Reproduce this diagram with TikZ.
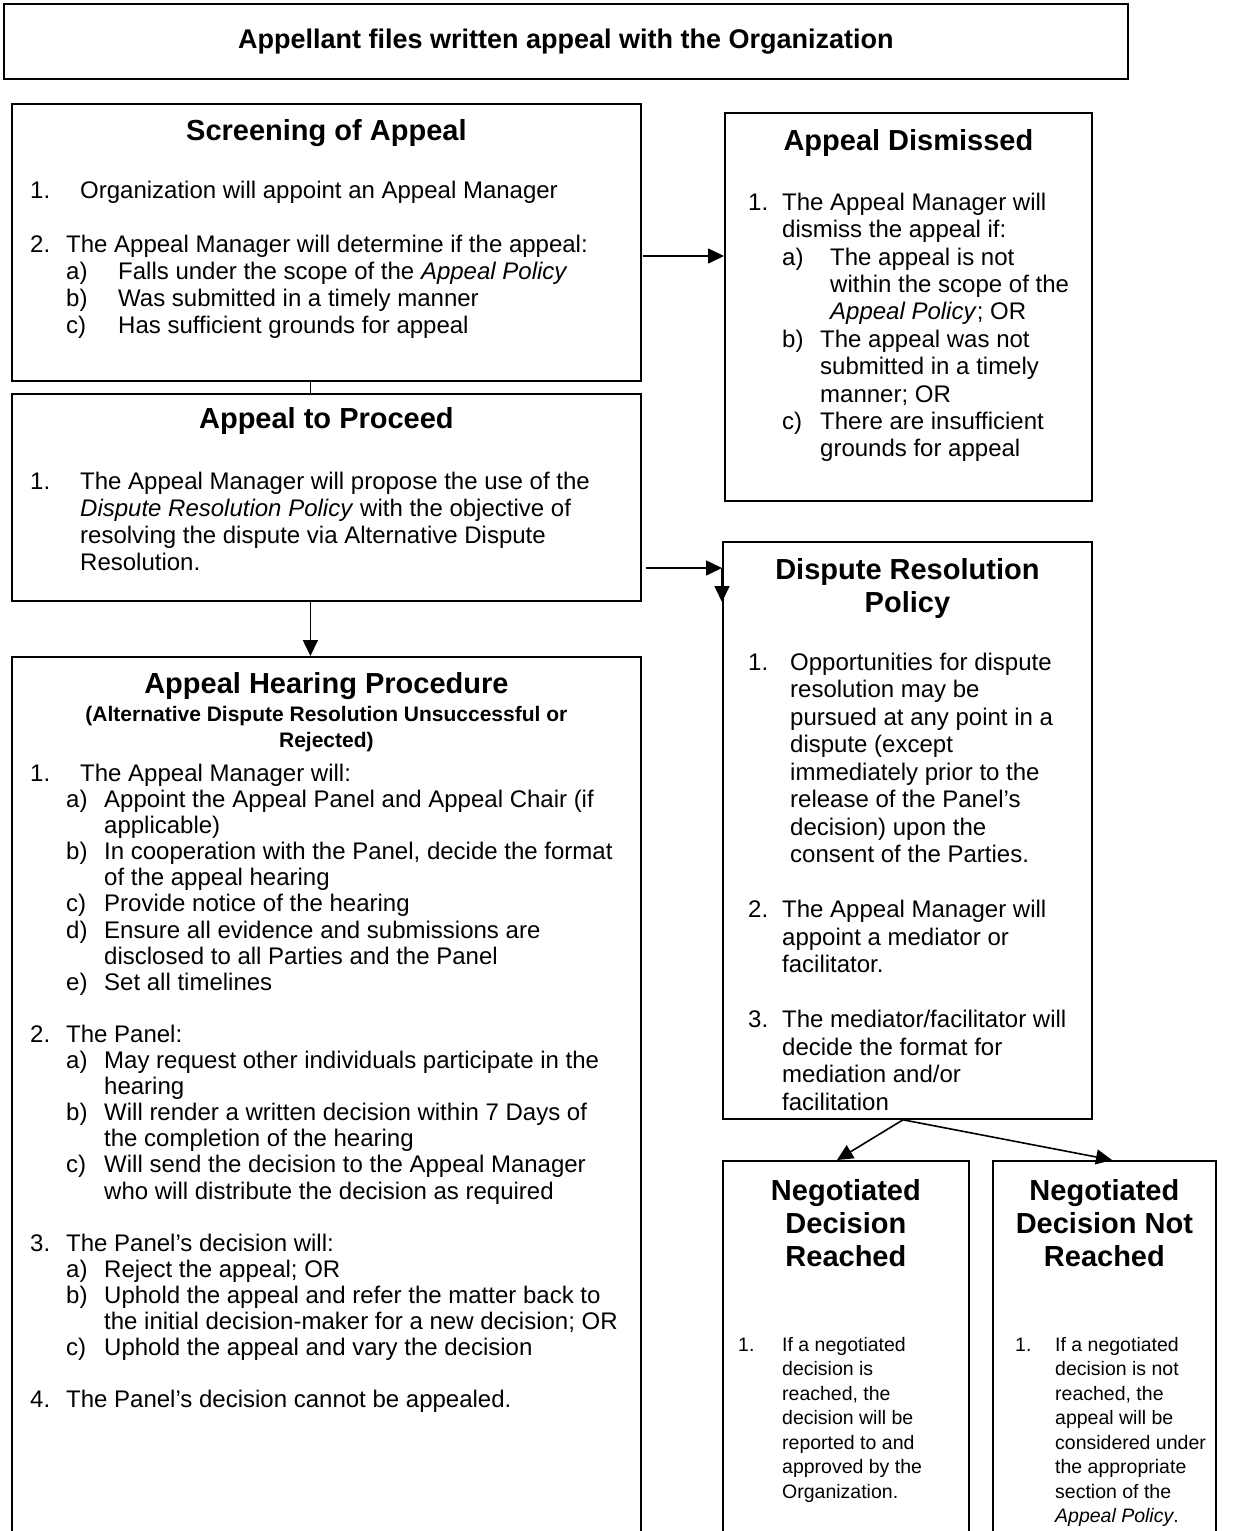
\documentclass[tikz,border=0pt]{standalone}
\usepackage{fontspec}
\setmainfont{Liberation Sans}
\usepackage{array}
\usetikzlibrary{arrows.meta,positioning,calc}

\newcommand{\bodyfont}[1][27]{\fontsize{24}{#1}\selectfont}
\newcommand{\smallfont}{\fontsize{19.5}{24.5}\selectfont}
\newcommand{\headfont}{\fontsize{29}{33}\selectfont\bfseries}
\newcommand{\mc}[1]{\multicolumn{2}{@{}l@{}}{#1}}

\tikzset{
  box/.style={draw, line width=1.8pt, inner sep=0pt, anchor=north west},
  head/.style={font=\headfont, align=center, inner sep=0pt},
  body/.style={inner sep=0pt, anchor=north west},
  link/.style={line width=1.6pt},
  arr/.style={link, -{Triangle[length=16pt,width=15pt]}},
}

\begin{document}
\begin{tikzpicture}[x=1pt,y=-1pt]
  \useasboundingbox (0,0) rectangle (1251,1531);
  \clip (0,0) rectangle (1251,1531);

  % boxes
  \node[box, minimum width=1124pt, minimum height=75pt,
        font=\fontsize{27}{32}\selectfont\bfseries] (filed) at (3,3)
        {Appellant files written appeal with the Organization};
  \node[box, minimum width=629pt, minimum height=277pt] (scr)  at (11,103)  {};
  \node[box, minimum width=367pt, minimum height=388pt] (dis)  at (724,112) {};
  \node[box, minimum width=629pt, minimum height=207pt] (proc) at (11,393)  {};
  \node[box, minimum width=369pt, minimum height=577pt] (drp)  at (722,541) {};
  \node[box, minimum width=629pt, minimum height=900pt] (hear) at (11,656)  {};
  \node[box, minimum width=246pt, minimum height=400pt] (ndr)  at (722,1160) {};
  \node[box, minimum width=223pt, minimum height=400pt] (ndnr) at (992,1160) {};

  % titles
  \node[head] (scrT)  at ($(scr.north)+(0,30)$)  {Screening of Appeal};
  \node[head] (disT)  at ($(dis.north)+(0,31)$)  {Appeal Dismissed};
  \node[head] (procT) at ($(proc.north)+(0,28)$) {Appeal to Proceed};
  \node[head] (drpT)  at ($(drp.north)+(0,47)$)  {Dispute Resolution\\Policy};
  \node[head] (hearT) at ($(hear.north)+(0,30)$) {Appeal Hearing Procedure};
  \node[head, font=\fontsize{21}{26}\selectfont\bfseries] (hearS)
        at ($(hear.north)+(0,73)$)
        {(Alternative Dispute Resolution Unsuccessful or\\Rejected)};
  \node[head] (ndrT)  at ($(ndr.north)+(0,63)$)  {Negotiated\\Decision\\Reached};
  \node[head] (ndnrT) at ($(ndnr.north)+(0,63)$) {Negotiated\\Decision Not\\Reached};

  % lists
  \node[body, font=\bodyfont] (scrB) at ($(scr.north west)+(19,76)$)
  {\begin{tabular}{@{}p{36pt}@{}p{52pt}@{}l@{}}
      1. & \mc{\hspace{14pt}Organization will appoint an Appeal Manager}\\
      \\
      2. & \mc{The Appeal Manager will determine if the appeal:}\\
         & a) & Falls under the scope of the \textit{Appeal Policy}\\
         & b) & Was submitted in a timely manner\\
         & c) & Has sufficient grounds for appeal
    \end{tabular}};

  \node[body, font={\bodyfont[27.4]}] (disB) at ($(dis.north west)+(24,79)$)
  {\begin{tabular}{@{}p{34pt}@{}p{38pt}@{}l@{}}
      1. & \mc{The Appeal Manager will}\\
         & \mc{dismiss the appeal if:}\\
         & a) & \hspace{10pt}The appeal is not\\
         &    & \hspace{10pt}within the scope of the\\
         &    & \hspace{10pt}\textit{Appeal Policy}; OR\\
         & b) & The appeal was not\\
         &    & submitted in a timely\\
         &    & manner; OR\\
         & c) & There are insufficient\\
         &    & grounds for appeal
    \end{tabular}};

  \node[body, font=\bodyfont] (procB) at ($(proc.north west)+(19,77)$)
  {\begin{tabular}{@{}p{50pt}@{}l@{}}
      1. & The Appeal Manager will propose the use of the\\
         & \textit{Dispute Resolution Policy} with the objective of\\
         & resolving the dispute via Alternative Dispute\\
         & Resolution.
    \end{tabular}};

  \node[body, font={\bodyfont[27.5]}] (drpB) at ($(drp.north west)+(26,110)$)
  {\begin{tabular}{@{}p{34pt}@{}l@{}}
      1. & \hspace{8pt}Opportunities for dispute\\
         & \hspace{8pt}resolution may be\\
         & \hspace{8pt}pursued at any point in a\\
         & \hspace{8pt}dispute (except\\
         & \hspace{8pt}immediately prior to the\\
         & \hspace{8pt}release of the Panel’s\\
         & \hspace{8pt}decision) upon the\\
         & \hspace{8pt}consent of the Parties.\\
      \\
      2. & The Appeal Manager will\\
         & appoint a mediator or\\
         & facilitator.\\
      \\
      3. & The mediator/facilitator will\\
         & decide the format for\\
         & mediation and/or\\
         & facilitation
    \end{tabular}};

  \node[body, font={\bodyfont[26.1]}] (hearB) at ($(hear.north west)+(19,107)$)
  {\begin{tabular}{@{}p{36pt}@{}p{38pt}@{}l@{}}
      1. & \mc{\hspace{14pt}The Appeal Manager will:}\\
         & a) & Appoint the Appeal Panel and Appeal Chair (if\\
         &    & applicable)\\
         & b) & In cooperation with the Panel, decide the format\\
         &    & of the appeal hearing\\
         & c) & Provide notice of the hearing\\
         & d) & Ensure all evidence and submissions are\\
         &    & disclosed to all Parties and the Panel\\
         & e) & Set all timelines\\
      \\
      2. & \mc{The Panel:}\\
         & a) & May request other individuals participate in the\\
         &    & hearing\\
         & b) & Will render a written decision within 7 Days of\\
         &    & the completion of the hearing\\
         & c) & Will send the decision to the Appeal Manager\\
         &    & who will distribute the decision as required\\
      \\
      3. & \mc{The Panel’s decision will:}\\
         & a) & Reject the appeal; OR\\
         & b) & Uphold the appeal and refer the matter back to\\
         &    & the initial decision-maker for a new decision; OR\\
         & c) & Uphold the appeal and vary the decision\\
      \\
      4. & \mc{The Panel’s decision cannot be appealed.}
    \end{tabular}};

  \node[body, font=\smallfont] (ndrB) at ($(ndr.north west)+(16,174)$)
  {\begin{tabular}{@{}p{44pt}@{}l@{}}
      1. & If a negotiated\\
         & decision is\\
         & reached, the\\
         & decision will be\\
         & reported to and\\
         & approved by the\\
         & Organization.
    \end{tabular}};

  \node[body, font=\smallfont] (ndnrB) at ($(ndnr.north west)+(23,174)$)
  {\begin{tabular}{@{}p{40pt}@{}l@{}}
      1. & If a negotiated\\
         & decision is not\\
         & reached, the\\
         & appeal will be\\
         & considered under\\
         & the appropriate\\
         & section of the\\
         & \textit{Appeal Policy}.
    \end{tabular}};

  % connectors
  \coordinate (toDis) at ($(scr.north east)+(1,153)$);
  \draw[arr] (toDis) -- (toDis -| dis.west);
  \coordinate (spine) at ($(scr.south)+(-16,0)$);
  \draw[link] (spine) -- (spine |- proc.north);
  \draw[arr] (spine |- proc.south) -- (spine |- hear.north);
  \coordinate (toDrp) at ($(proc.north east)+(4,175)$);
  \draw[arr] (toDrp) -- (toDrp -| drp.west);
  \draw[arr] (toDrp -| drp.west) -- ++(0,34);
  \coordinate (split) at ($(drp.south west)+(181,0)$);
  \draw[arr] (split) -- ($(ndr.north west)+(115,0)$);
  \draw[arr] (split) -- ($(ndnr.north west)+(120,0)$);
\end{tikzpicture}
\end{document}
